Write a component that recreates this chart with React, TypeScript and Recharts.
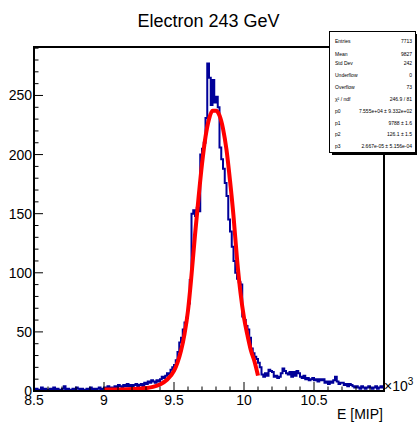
import React from 'react';
import { ComposedChart, Line, XAxis, YAxis, ReferenceArea } from 'recharts';

// Histogram: 200 bins of 12.5 MIP from 8500 to 11000
const histStart = 8500;
const binWidth = 12.5;
const counts: number[] = [
  // 8500 - 8987.5
  1, 2, 0, 1, 3, 1, 2, 1, 0, 2, 1, 3, 1, 2, 0, 1, 2, 4, 1, 2,
  1, 0, 2, 1, 3, 2, 1, 2, 1, 0, 2, 1, 3, 1, 2, 1, 2, 3, 1, 2,
  // 9000 - 9237.5
  3, 2, 4, 3, 2, 3, 4, 3, 5, 4, 3, 5, 4, 6, 4, 5, 3, 5, 6, 4,
  // 9250 - 9387.5
  5, 6, 4, 7, 6, 8, 7, 9, 8, 7, 9, 8,
  // 9400 - 9487.5
  10, 12, 11, 13, 15, 14, 18, 20,
  // 9500 - 9587.5
  22, 26, 33, 41, 45, 52, 58, 62,
  // 9600 - 9687.5
  74, 94, 150, 153, 148, 155, 152, 200,
  // 9700 - 9787.5
  205, 210, 231, 277, 265, 242, 263, 244,
  // 9800 - 9887.5
  249, 240, 206, 196, 188, 176, 165, 145,
  // 9900 - 9987.5
  135, 122, 110, 100, 95, 92, 90, 63,
  // 10000 - 10087.5
  60, 55, 52, 45, 36, 32, 29, 27,
  // 10100 - 10187.5
  24, 20, 14, 12, 15, 13, 18, 17,
  // 10200
  16, 12, 13, 11, 12, 15, 19, 17,
  // 10300
  15, 14, 16, 12, 16, 13, 17, 15,
  // 10400
  12, 11, 13, 10, 11, 9, 10, 11,
  // 10500
  9, 10, 8, 10, 9, 10, 7, 8,
  // 10600
  6, 8, 7, 9, 12, 8, 6, 7,
  // 10700
  7, 5, 6, 4, 6, 5, 4, 3,
  // 10800
  4, 3, 2, 4, 3, 2, 3, 4,
  // 10900
  3, 2, 3, 4, 2, 3, 4, 3,
];

// Fit curve
const fitE: number[] = [9000, 9100, 9200, 9300, 9350, 9400, 9450, 9500, 9525, 9550, 9575, 9600, 9625, 9650, 9675, 9700, 9725, 9750, 9775, 9800, 9825, 9850, 9875, 9900, 9925, 9950, 9975, 10000, 10025, 10050, 10075, 10100];
const fitV: number[] = [1.2, 1.3, 1.6, 2.5, 3.5, 5.5, 9.5, 17, 24, 34, 48, 68, 98, 132, 163, 192, 215, 230, 237, 237, 233, 222, 204, 178, 148, 112, 83, 62, 47, 34, 25, 13];

const xMajorLabels: string[] = ['8.5', '9', '9.5', '10', '10.5'];
const xMajorValues: number[] = [8500, 9000, 9500, 10000, 10500];
const yMajorValues: number[] = [0, 50, 100, 150, 200, 250];

const statsLabels: string[] = ['Entries', 'Mean', 'Std Dev', 'Underflow', 'Overflow', 'χ² / ndf', 'p0', 'p1', 'p2', 'p3'];
const statsValues: string[] = ['7713', '9827', '242', '0', '73', '246.9 / 81', '7.555e+04 ± 9.332e+02', '9788 ± 1.6', '126.1 ± 1.5', '2.667e-05 ± 5.156e-04'];

const title = 'Electron 243 GeV';
const xTitle = 'E [MIP]';

const histData = [
  ...counts.map((c, i) => ({ x: histStart + i * binWidth, h: c })),
  { x: histStart + counts.length * binWidth, h: counts[counts.length - 1] },
];
const fitData = fitE.map((e, i) => ({ x: e, f: fitV[i] }));

const xTicks: number[] = [];
for (let v = 8500; v <= 11000; v += 100) xTicks.push(v);
const yTicks: number[] = [];
for (let v = 0; v <= 290; v += 10) yTicks.push(v);

const FONT = '"Liberation Sans", Arial, Helvetica, sans-serif';

const XTick = (props: any) => {
  const { x, y, payload } = props;
  const v = payload.value;
  const idx = xMajorValues.indexOf(v);
  const major = v % 500 === 0;
  return (
    <g>
      <line x1={x} x2={x} y1={y} y2={y - (major ? 9 : 4.5)} stroke="#000" strokeWidth={1} />
      {idx >= 0 && (
        <text x={x} y={y + 14} textAnchor="middle" fontFamily={FONT} fontSize={14} fill="#000">
          {xMajorLabels[idx]}
        </text>
      )}
    </g>
  );
};

const YTick = (props: any) => {
  const { x, y, payload } = props;
  const v = payload.value;
  const major = yMajorValues.indexOf(v) >= 0;
  return (
    <g>
      <line x1={x} x2={x + (major ? 9 : 4.5)} y1={y} y2={y} stroke="#000" strokeWidth={1} />
      {major && (
        <text x={x - 2} y={y + 5} textAnchor="end" fontFamily={FONT} fontSize={14} fill="#000">
          {String(v)}
        </text>
      )}
    </g>
  );
};

const rowY = [43.2, 55.5, 64.5, 77, 88.8, 100.8, 113, 125.3, 135.8, 148];

export default function App() {
  return (
    <div style={{ position: 'absolute', left: 0, top: 0, width: 417, height: 424, background: '#fff' }}>
      <ComposedChart
        width={417}
        height={424}
        margin={{ top: 47, right: 33, bottom: 0, left: 0 }}
      >
        <XAxis
          dataKey="x"
          type="number"
          domain={[8500, 11000]}
          ticks={xTicks}
          interval={0}
          tickSize={0}
          tickMargin={0}
          tick={XTick}
          height={33}
          axisLine={{ stroke: '#000', strokeWidth: 2 }}
          allowDataOverflow
        />
        <YAxis
          type="number"
          domain={[0, 291]}
          ticks={yTicks}
          interval={0}
          tickSize={0}
          tickMargin={0}
          tick={YTick}
          width={34}
          axisLine={{ stroke: '#000', strokeWidth: 2 }}
          allowDataOverflow
        />
        <ReferenceArea x1={8500} x2={11000} y1={0} y2={291} fill="none" stroke="#000" strokeWidth={2} ifOverflow="visible" />
        <Line
          data={histData}
          dataKey="h"
          type="stepAfter"
          stroke="#000099"
          strokeWidth={2}
          dot={false}
          isAnimationActive={false}
        />
        <Line
          data={fitData}
          dataKey="f"
          type="monotone"
          stroke="#ff0000"
          strokeWidth={4}
          dot={false}
          isAnimationActive={false}
        />
      </ComposedChart>
      <svg width={417} height={424} style={{ position: 'absolute', left: 0, top: 0, pointerEvents: 'none' }}>
        <text x={208.5} y={26.5} textAnchor="middle" fontFamily={FONT} fontSize={18} fill="#000">{title}</text>
        <text x={383} y={419} textAnchor="end" fontFamily={FONT} fontSize={14} fill="#000">{xTitle}</text>
        <text x={384} y={391} fontFamily={FONT} fontSize={14} fill="#000">
          ×10<tspan fontSize={10} dy={-6}>3</tspan>
        </text>
        {/* stats box */}
        <rect x={332} y={34} width={86} height={121} fill="#000" />
        <rect x={329.5} y={31.5} width={86} height={121} fill="#fff" stroke="#000" strokeWidth={1} />
        {statsLabels.map((l, i) => (
          <text key={'l' + i} x={335} y={rowY[i]} fontFamily={FONT} fontSize={5} fill="#000">{l}</text>
        ))}
        {statsValues.map((v, i) => (
          <text key={'v' + i} x={412} y={rowY[i]} textAnchor="end" fontFamily={FONT} fontSize={5} fill="#000">{v}</text>
        ))}
      </svg>
    </div>
  );
}
